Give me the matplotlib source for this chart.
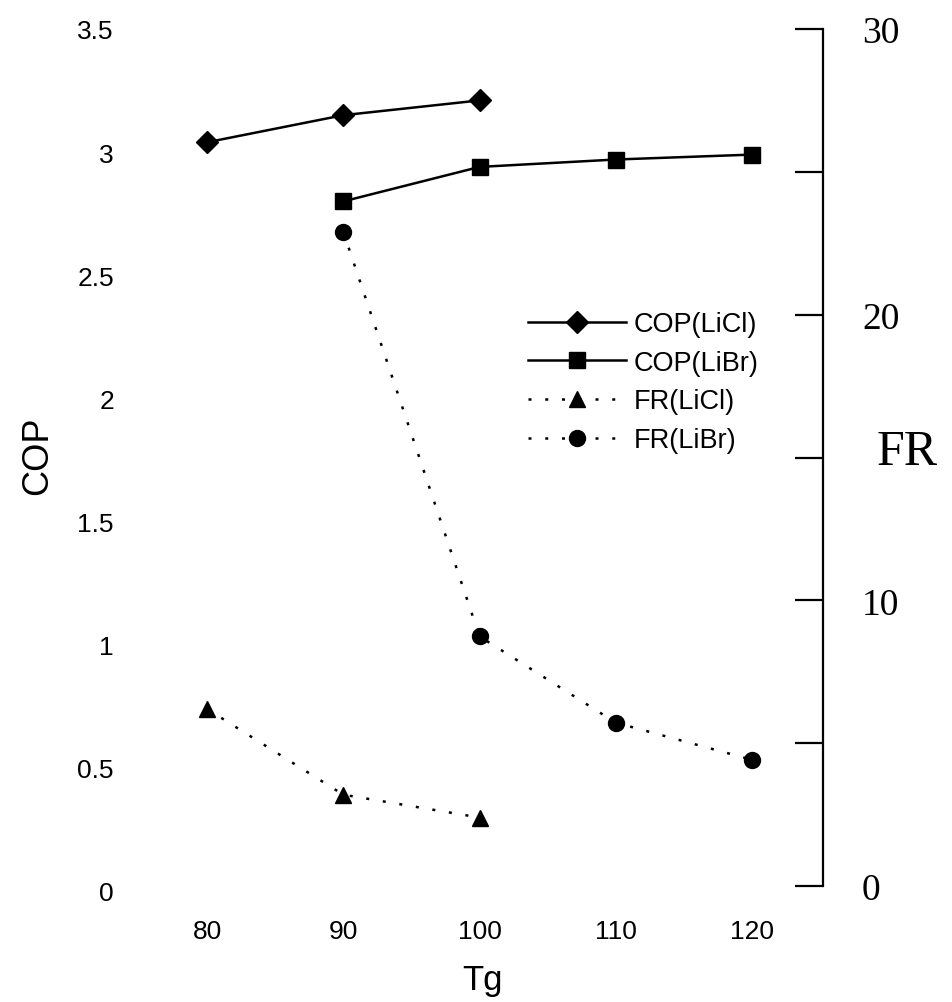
import matplotlib
import matplotlib.pyplot as plt

matplotlib.use('Agg')

tg_licl = [80, 90, 100]
tg_libr = [90, 100, 110, 120]
cop_licl = [3.04, 3.15, 3.21]
cop_libr = [2.80, 2.94, 2.97, 2.99]
fr_licl = [6.2, 3.2, 2.4]
fr_libr = [22.9, 8.74, 5.72, 4.42]

x_ticks = [80, 90, 100, 110, 120]
cop_ticks = [0, 0.5, 1, 1.5, 2, 2.5, 3, 3.5]
cop_labels = ['0', '0.5', '1', '1.5', '2', '2.5', '3', '3.5']
fr_ticks = [0, 5, 10, 15, 20, 25, 30]
fr_labels = ['0', '', '10', '', '20', '', '30']

plt.rcParams['font.family'] = ['Liberation Sans', 'DejaVu Sans']

fig = plt.figure(figsize=(9.53, 10.03), dpi=100)
ax = fig.add_axes([0.1312, 0.1107, 0.7324, 0.8594])
ax2 = ax.twinx()

l1, = ax.plot(tg_licl, cop_licl, color='black', linestyle='-', linewidth=1.8,
              marker='D', markersize=11, label='COP(LiCl)')
l2, = ax.plot(tg_libr, cop_libr, color='black', linestyle='-', linewidth=1.8,
              marker='s', markersize=12, label='COP(LiBr)')
l3, = ax2.plot(tg_licl, fr_licl, color='black', linestyle=(0, (1.2, 5.5)), linewidth=1.8,
               marker='^', markersize=12, label='FR(LiCl)')
l4, = ax2.plot(tg_libr, fr_libr, color='black', linestyle=(0, (1.2, 5.5)), linewidth=1.8,
               marker='o', markersize=11.5, label='FR(LiBr)')

ax.set_xlim(73.98, 125.21)
ax.set_ylim(0, 3.5)
ax2.set_ylim(-0.17, 29.79)

for s in ['left', 'top', 'bottom', 'right']:
    ax.spines[s].set_visible(False)
for s in ['left', 'top', 'bottom']:
    ax2.spines[s].set_visible(False)
ax2.spines['right'].set_linewidth(1.6)
ax2.spines['right'].set_bounds(0, 30)

ax.set_xticks(x_ticks)
ax.set_xticklabels([str(v) for v in x_ticks])
ax.tick_params(axis='x', length=0, pad=20, labelsize=19)
ax.set_yticks(cop_ticks)
ax.set_yticklabels(cop_labels)
ax.tick_params(axis='y', length=0, pad=8, labelsize=19)

ax2.set_yticks(fr_ticks)
ax2.set_yticklabels(fr_labels, family='Liberation Serif')
ax2.tick_params(axis='y', direction='in', length=20, width=1.6, pad=28, labelsize=27)

ax.set_xlabel('Tg', fontsize=25)
ax.xaxis.set_label_coords(0.512, -0.083)
ax.set_ylabel('COP', fontsize=26)
ax.yaxis.set_label_coords(-0.10, 0.506)
ax2.set_ylabel('FR', fontsize=36, family='Liberation Serif', rotation=0,
               ha='center', va='center')
ax2.yaxis.set_label_coords(1.12, 0.51)

ax.legend(handles=[l1, l2, l3, l4], loc='upper left',
          bbox_to_anchor=(528 / 953, 1 - 312 / 1003), bbox_transform=fig.transFigure,
          frameon=False, fontsize=19.5, handlelength=3.6, handletextpad=0.3,
          labelspacing=0.47, borderpad=0, borderaxespad=0)

plt.savefig('out.png', dpi=100)
